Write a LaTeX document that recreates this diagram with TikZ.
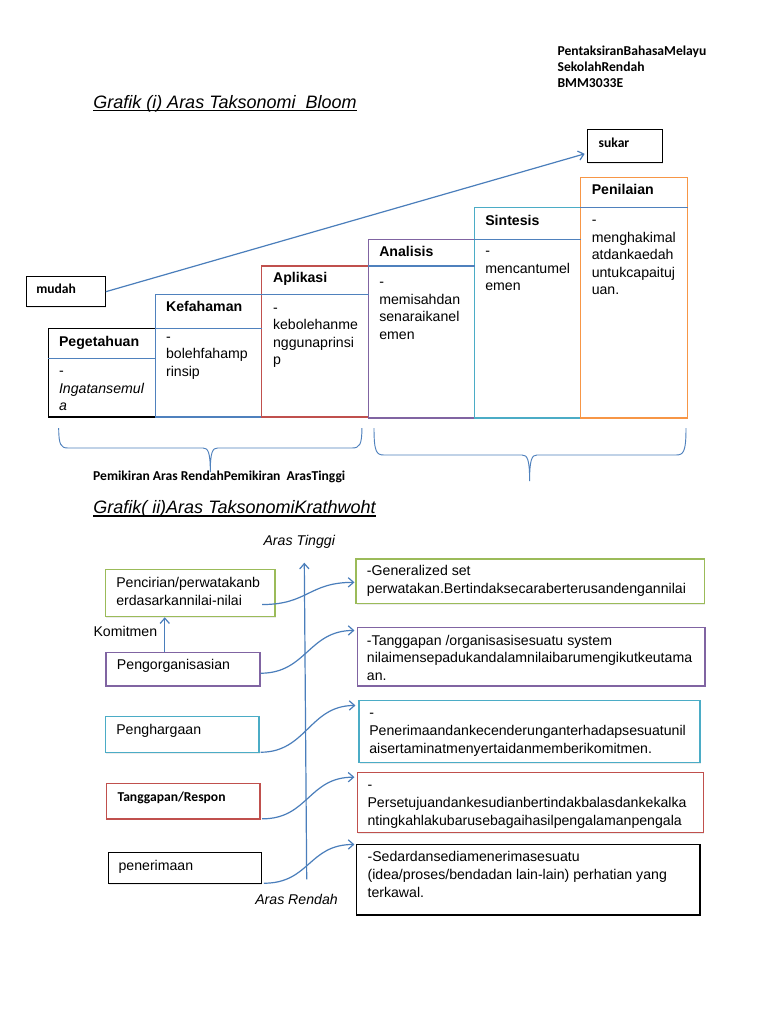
\documentclass[tikz,border=0pt]{standalone}
\usepackage{fontspec}
\setmainfont{Liberation Sans}
\newfontfamily\calfont{Carlito}
\usetikzlibrary{arrows.meta,shadows,fit,calc}
\definecolor{cBlue}{HTML}{4A7EBB}
\definecolor{cDiv}{HTML}{4F81BD}
\definecolor{cGreen}{HTML}{9BBB59}
\definecolor{cPurple}{HTML}{8064A2}
\definecolor{cCyan}{HTML}{4BACC6}
\definecolor{cRed}{HTML}{C0504D}
\definecolor{cOrange}{HTML}{F79646}
\tikzset{
  boxnode/.style={draw=#1, inner sep=0pt, fill=white, line width=0.8pt,
    drop shadow={shadow xshift=0.5pt, shadow yshift=-1pt, opacity=0.15}},
  headtxt/.style={anchor=base west, inner sep=0pt, font=\fontsize{10.6}{13}\selectfont\bfseries},
  bodytxt/.style={anchor=base west, inner sep=0pt, align=left, font=\fontsize{10.6}{13.125}\selectfont},
  bodytwo/.style={anchor=base west, inner sep=0pt, align=left, font=\fontsize{10.6}{13.35}\selectfont},
  caltxt/.style={anchor=base west, inner sep=0pt, align=left, font=\calfont\bfseries\fontsize{10.2}{11.9}\selectfont},
  titletxt/.style={anchor=base west, inner sep=0pt, font=\fontsize{13.5}{16}\selectfont\itshape},
  itxt/.style={anchor=base west, inner sep=0pt, font=\fontsize{10.6}{13}\selectfont\itshape},
  arr/.style={draw=cBlue, line width=0.9pt, -{Straight Barb[length=4pt,width=7pt]}},
  bracepath/.style={draw=cDiv, line width=0.7pt},
  divline/.style={draw=cDiv, line width=0.8pt}
}
\begin{document}
\begin{tikzpicture}[x=0.75pt,y=-0.75pt]
\fill[white] (0,0) rectangle (768,1024);
\useasboundingbox (0,0) rectangle (768,1024);

% header (base = last line)
\node[caltxt] (hdr) at (557.3,87.7) {PentaksiranBahasaMelayu\\SekolahRendah\\BMM3033E};

% title 1
\node[titletxt] (title1) at (93,108.1) {Grafik (i) Aras Taksonomi~~Bloom};
\draw[line width=0.9pt] ([yshift=-1.5pt]title1.base west) -- ([yshift=-1.5pt]title1.base east);

% mudah / sukar
\node[boxnode=black, fit={(26.7,276.7) (105.3,306.7)}] (mudah) {};
\node[caltxt] (mudahT) at (36,293.5) {mudah};
\node[boxnode=black, fit={(587.7,129.3) (662.1,162.3)}] (sukar) {};
\node[caltxt] (sukarT) at (598.4,147.2) {sukar};

% Bloom boxes
\node[boxnode=black,   fit={(48.3,328.7) (155.3,417)}] (peg) {};
\node[boxnode=cDiv,    fit={(155.3,294.3) (261.7,417)}] (kef) {};
\node[boxnode=cRed,    fit={(261.7,266) (368.3,417)}] (apl) {};
\node[boxnode=cPurple, fit={(368.3,239.3) (474.3,418)}] (ana) {};
\node[boxnode=cCyan,   fit={(474.3,207.7) (580.7,418)}] (sin) {};
\node[boxnode=cOrange, fit={(580.7,177.3) (687.7,418)}] (pen) {};

\draw[divline] (peg.west |- 0,358.3) -- (peg.east |- 0,358.3);
\draw[divline] (kef.west |- 0,328.7) -- (kef.east |- 0,328.7);
\draw[divline] (apl.west |- 0,294.3) -- (apl.east |- 0,294.3);
\draw[divline] (ana.west |- 0,266) -- (ana.east |- 0,266);
\draw[divline] (sin.west |- 0,239.5) -- (sin.east |- 0,239.5);
\draw[divline] (pen.west |- 0,207.7) -- (pen.east |- 0,207.7);

\node[headtxt] (pegH) at (58.8,346.7) {Pegetahuan};
\node[headtxt] (kefH) at (165.8,311.7) {Kefahaman};
\node[headtxt] (aplH) at (272.8,282.7) {Aplikasi};
\node[headtxt] (anaH) at (379,256.7) {Analisis};
\node[headtxt] (sinH) at (485,225) {Sintesis};
\node[headtxt] (penH) at (591.5,194.3) {Penilaian};

% body texts (base anchor = baseline of last line)
\node[bodytxt] (pegB) at (58.8,410.5) {-\\\textit{Ingatansemul}\\\textit{a}};
\node[bodytxt] (kefB) at (165.8,376.2) {-\\bolehfahamp\\rinsip};
\node[bodytxt] (aplB) at (272.8,364.7) {-\\kebolehanme\\nggunaprinsi\\p};
\node[bodytxt] (anaB) at (379,339.3) {-\\memisahdan\\senaraikanel\\emen};
\node[bodytxt] (sinB) at (485,290.5) {-\\mencantumel\\emen};
\node[bodytxt] (penB) at (591.5,294.5) {-\\menghakimal\\atdankaedah\\untukcapaituj\\uan.};

\draw[arr] (mudah.east) -- ($(sukar.south west)+(-2.5,-9)$);

% braces
\draw[bracepath] (58.7,428) .. controls (58.7,445) and (61,448) .. (68,448) -- (203,448)
  .. controls (208,448) and (210.3,452) .. (210.3,472)
  .. controls (210.3,452) and (212.6,448) .. (217.6,448) -- (352,448)
  .. controls (359.5,448) and (361.9,445) .. (361.9,428);
\draw[bracepath] (374,428) .. controls (374,452) and (376.5,455) .. (384,455) -- (522,455)
  .. controls (527.3,455) and (529.6,459) .. (529.6,481)
  .. controls (529.6,459) and (532,455) .. (537,455) -- (676,455)
  .. controls (683.5,455) and (686,452) .. (686,428);

\node[caltxt] (pemik) at (92.9,480) {Pemikiran Aras RendahPemikiran~~ArasTinggi};

% title 2
\node[titletxt] (title2) at (93,513.7) {Grafik( ii)Aras TaksonomiKrathwoht};
\draw[line width=0.9pt] ([yshift=-1.7pt]title2.base west) -- ([yshift=-1.7pt]title2.base east);

% axis
\coordinate (axbot) at (306.7,879.3);
\coordinate (axtop) at (304.3,562.7);
\draw[arr] (axbot) -- (axtop);
\node[itxt] (tinggi) at (263.3,545) {Aras Tinggi};
\node[itxt] (rendah) at (255,904.3) {Aras Rendah};

% left boxes
\node[boxnode=cGreen,  fit={(105.7,569.3) (275,616.7)}] (pcr) {};
\node[boxnode=cPurple, fit={(106,652.3) (260,686)}] (org) {};
\node[boxnode=cCyan,   fit={(105.7,716.7) (259,752.3)}] (hrg) {};
\node[boxnode=cRed,    fit={(106.7,783.3) (260,819)}] (tgp) {};
\node[boxnode=black,   fit={(108.3,852.3) (261.7,883.3)}] (ter) {};

\node[bodytwo] (pcrT) at (116,605.5) {Pencirian/perwatakanb\\erdasarkannilai-nilai};
\node[bodytwo] (orgT) at (116.7,669.3) {Pengorganisasian};
\node[bodytwo] (hrgT) at (116,734.3) {Penghargaan};
\node[caltxt]  (tgpT) at (117.3,801.7) {Tanggapan/Respon};
\node[bodytwo] (terT) at (118.3,870.7) {penerimaan};

\coordinate (kom) at ($(org.north west)+(59.3,0)$);
\draw[arr] (kom) -- (kom |- pcr.south);
\node[bodytwo] (komT) at (93.3,636) {Komitmen};

% right boxes
\node[boxnode=cGreen,  fit={(356,559) (704.3,603.3)}] (ra) {};
\node[boxnode=cPurple, fit={(357.7,627.7) (705,686)}] (rb) {};
\node[boxnode=cCyan,   fit={(359,700.7) (700,762.7)}] (rc) {};
\node[boxnode=cRed,    fit={(357.3,772.3) (703.3,832.7)}] (rd) {};
\node[boxnode=black,   fit={(356.7,844.3) (700,915)}] (re) {};

\node[bodytwo] (raT) at (366.7,593.5) {-Generalized set\\perwatakan.Bertindaksecaraberterusandengannilai};
\node[bodytwo] (rbT) at (366.7,680.6) {-Tanggapan /organisasisesuatu system\\nilaimensepadukandalamnilaibarumengikutkeutama\\an.};
\node[bodytwo] (rcT) at (369,753.4) {-\\Penerimaandankecenderunganterhadapsesuatunil\\aisertaminatmenyertaidanmemberikomitmen.};
\node[bodytwo] (rdT) at (367.3,825.1) {-\\Persetujuandankesudianbertindakbalasdankekalka\\ntingkahlakubarusebagaihasilpengalamanpengala};
\node[bodytwo] (reT) at (367.3,897.3) {-Sedardansediamenerimasesuatu\\(idea/proses/bendadan lain-lain) perhatian yang\\terkawal.};

% curved connectors
\draw[arr] ($(pcr.south east)+(-13.3,-12.7)$) .. controls +(46,0) and +(-46,0) .. ($(ra.west)+(-1,1.2)$);
\draw[arr] ($(org.south east)+(0,-13.3)$) .. controls +(46,0) and +(-46,0) .. ($(rb.north west)+(-2.7,3.3)$);
\draw[arr] ($(hrg.south east)+(1,-0.6)$) .. controls +(46,0) and +(-46,0) .. ($(rc.north west)+(-3,5.3)$);
\draw[arr] ($(tgp.south east)+(1.7,-0.7)$) .. controls +(46,0) and +(-46,0) .. ($(rd.north west)+(-2.3,5.4)$);
\draw[arr] ($(ter.south east)+(1.6,-0.6)$) .. controls +(46,0) and +(-46,0) .. ($(re.north west)+(-1.7,0.7)$);
\end{tikzpicture}
\end{document}
